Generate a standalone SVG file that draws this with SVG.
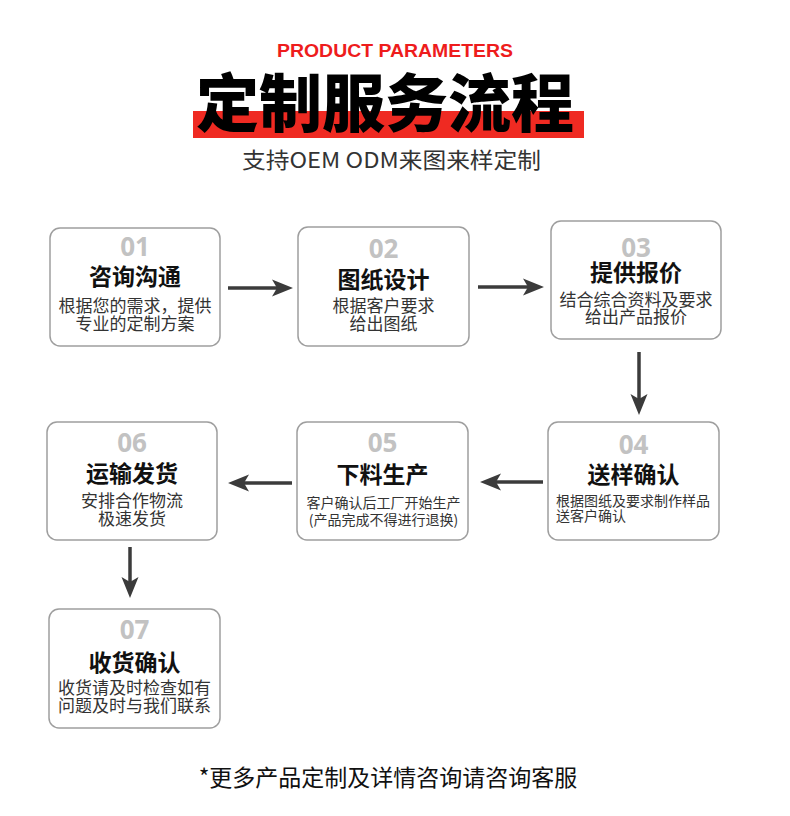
<svg xmlns="http://www.w3.org/2000/svg" width="790" height="816" viewBox="0 0 790 816">
<style>
.cjk{font-family:"Noto Sans CJK SC","Noto Sans",sans-serif}
.box{fill:#fff;stroke:#9e9e9e;stroke-width:1.5}
.num{font-family:"Open Sans","Liberation Sans",sans-serif;font-weight:700;font-size:26px;fill:#c2c2c2;text-anchor:middle}
.ttl{font-family:"Noto Sans CJK SC",sans-serif;font-weight:700;font-size:23px;fill:#111;text-anchor:middle}
.body{font-family:"Noto Sans CJK SC",sans-serif;font-size:17px;fill:#333;text-anchor:middle}
.small{font-family:"Noto Sans CJK SC",sans-serif;font-size:14px;fill:#333}
.conn line{stroke:#3b3b3b;stroke-width:3.5;marker-end:url(#ah)}
</style>
<defs>
<marker id="ah" markerUnits="userSpaceOnUse" markerWidth="22" markerHeight="20" viewBox="0 -10 22 20" refX="5" refY="0" orient="auto">
<path d="M0,-8.5 L21,0 L0,8.5 L5,0 Z" fill="#3b3b3b"/>
</marker>
</defs>
<rect width="790" height="816" fill="#fff"/>
<g id="header">
<text x="395" y="57" font-family="Liberation Sans,Arial,sans-serif" font-weight="700" font-size="18" fill="#ee1c1c" text-anchor="middle" textLength="236" lengthAdjust="spacingAndGlyphs">PRODUCT PARAMETERS</text>
<rect x="193" y="111" width="391" height="27" fill="#ef2a22"/>
<text x="385" y="126" class="cjk" font-weight="900" font-size="63" fill="#000" text-anchor="middle">定制服务流程</text>
<text x="391.5" y="168" class="cjk" font-size="22" fill="#333" text-anchor="middle" textLength="299" lengthAdjust="spacingAndGlyphs">支持OEM ODM来图来样定制</text>
</g>
<g id="n01">
<rect class="box" x="50" y="228" width="170" height="118" rx="10"/>
<text class="num" x="135" y="256">01</text>
<text class="ttl" x="135" y="285">咨询沟通</text>
<text class="body" x="135" y="312">根据您的需求，提供</text>
<text class="body" x="135" y="330">专业的定制方案</text>
</g>
<g id="n02">
<rect class="box" x="298" y="227" width="171" height="119" rx="10"/>
<text class="num" x="383.5" y="258">02</text>
<text class="ttl" x="383.5" y="288">图纸设计</text>
<text class="body" x="383.5" y="312">根据客户要求</text>
<text class="body" x="383.5" y="330">给出图纸</text>
</g>
<g id="n03">
<rect class="box" x="551" y="221" width="170" height="118" rx="10"/>
<text class="num" x="636" y="257">03</text>
<text class="ttl" x="636" y="281">提供报价</text>
<text class="body" x="636" y="306">结合综合资料及要求</text>
<text class="body" x="636" y="323">给出产品报价</text>
</g>
<g id="n04">
<rect class="box" x="548" y="422" width="171" height="118" rx="10"/>
<text class="num" x="633.5" y="454">04</text>
<text class="ttl" x="633.5" y="483" font-size="24">送样确认</text>
<text class="small" x="556" y="506">根据图纸及要求制作样品</text>
<text class="small" x="556" y="521">送客户确认</text>
</g>
<g id="n05">
<rect class="box" x="297" y="422" width="171" height="118" rx="10"/>
<text class="num" x="382.5" y="452">05</text>
<text class="ttl" x="382.5" y="483">下料生产</text>
<text class="small" x="383.5" y="508" text-anchor="middle">客户确认后工厂开始生产</text>
<text class="small" x="383.5" y="525" text-anchor="middle">(产品完成不得进行退换)</text>
</g>
<g id="n06">
<rect class="box" x="47" y="422" width="170" height="118" rx="10"/>
<text class="num" x="132" y="452">06</text>
<text class="ttl" x="132" y="482">运输发货</text>
<text class="body" x="132" y="507">安排合作物流</text>
<text class="body" x="132" y="525">极速发货</text>
</g>
<g id="n07">
<rect class="box" x="49" y="609" width="171" height="119" rx="10"/>
<text class="num" x="134.5" y="639">07</text>
<text class="ttl" x="134.5" y="671">收货确认</text>
<text class="body" x="134.5" y="694">收货请及时检查如有</text>
<text class="body" x="134.5" y="712">问题及时与我们联系</text>
</g>
<g id="connectors" class="conn">
<line x1="228" y1="288" x2="277" y2="288"/>
<line x1="478" y1="287" x2="528" y2="287"/>
<line x1="639" y1="352" x2="639" y2="399"/>
<line x1="543" y1="482" x2="496" y2="482"/>
<line x1="292" y1="483" x2="244" y2="483"/>
<line x1="130" y1="547" x2="130" y2="582"/>
</g>
<g id="footer">
<text x="388" y="786" class="cjk" font-size="23" fill="#111" text-anchor="middle">*更多产品定制及详情咨询请咨询客服</text>
</g>
</svg>
